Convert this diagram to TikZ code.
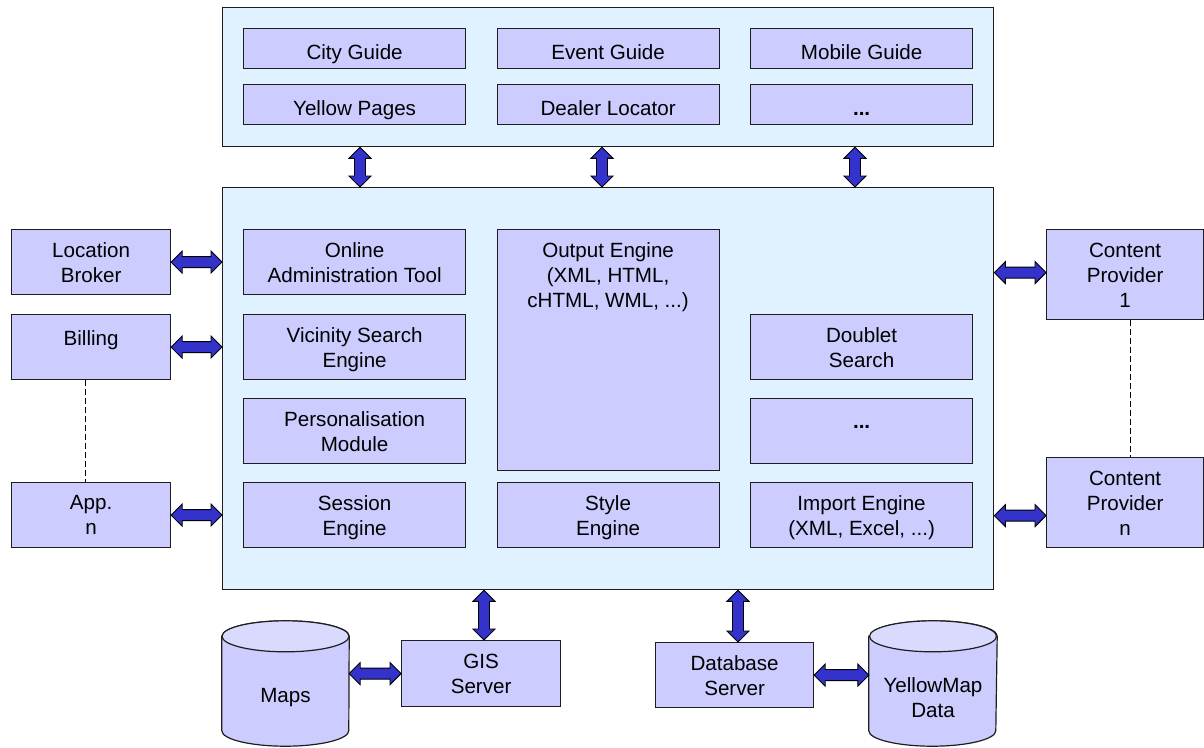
\documentclass[tikz,border=0pt]{standalone}
\usepackage{fontspec}
\setmainfont{Liberation Sans}
\usetikzlibrary{calc}

\definecolor{panelfill}{RGB}{224,242,255}
\definecolor{boxfill}{RGB}{204,204,255}
\definecolor{cyltop}{RGB}{218,218,255}
\definecolor{arrowblue}{RGB}{51,51,204}
\definecolor{edge}{RGB}{30,30,30}

\tikzset{
  panel/.style={draw=edge, line width=1.3pt, fill=panelfill, inner sep=0pt},
  box/.style={draw=edge, line width=1.2pt, fill=boxfill, inner sep=0pt},
  txt/.style={anchor=north, inner xsep=0pt, inner ysep=13.5pt, align=center,
              font=\fontsize{20.6}{25}\selectfont, execute at begin node=\strut},
  ctxt/.style={inner sep=0pt, align=center, font=\fontsize{20.6}{25}\selectfont},
  barrow/.style={fill=arrowblue, draw=black, line width=0.9pt, line join=miter},
  cylbody/.style={draw=edge, line width=1.2pt, fill=boxfill},
  cylcap/.style={draw=edge, line width=1.2pt, fill=cyltop},
  link/.style={draw=black, line width=1.6pt, dash pattern=on 6pt off 3pt}
}

% rectangle with its caption set from the top edge
\newcommand\tbox[6]{%
  \node[box, minimum width=#4pt, minimum height=#5pt, anchor=north west] (#1) at (#2,#3) {};
  \node[txt] (#1-t) at (#1.north) {#6};}

% two-headed block arrow between two points
\newcommand\blockarrow[2]{%
  \path[barrow] (#1)
    -- ($(#1)!11pt!(#2)!11pt!90:(#2)$)
    -- ($(#1)!11pt!(#2)!5.5pt!90:(#2)$)
    -- ($(#2)!11pt!(#1)!5.5pt!-90:(#1)$)
    -- ($(#2)!11pt!(#1)!11pt!-90:(#1)$)
    -- (#2)
    -- ($(#2)!11pt!(#1)!11pt!90:(#1)$)
    -- ($(#2)!11pt!(#1)!5.5pt!90:(#1)$)
    -- ($(#1)!11pt!(#2)!5.5pt!-90:(#2)$)
    -- ($(#1)!11pt!(#2)!11pt!-90:(#2)$)
    -- cycle;}

% database drum with a lighter top
\newcommand\drum[2]{%
  \path[cylbody] ([yshift=-15.5pt]#1.north west) -- ([yshift=15.5pt]#1.south west)
    arc[start angle=180, end angle=360, x radius=63.5pt, y radius=15.5pt]
    -- ([yshift=-15.5pt]#1.north east)
    arc[start angle=0, end angle=180, x radius=63.5pt, y radius=15.5pt] -- cycle;
  \path[cylcap] ([yshift=-15.5pt]#1.north) ellipse [x radius=63.5pt, y radius=15.5pt];
  \node[ctxt] (#1-t) at ([yshift=-14.5pt]#1.center) {#2};}

\begin{document}
\begin{tikzpicture}[x=1pt, y=-1pt]
\useasboundingbox (0,0) rectangle (1204,747);

% applications panel
\node[panel, minimum width=771pt, minimum height=139pt, anchor=north west] (top) at (222,7) {};
\tbox{cg}{243}{28}{222}{40}{City Guide}
\tbox{eg}{496.5}{28}{222}{40}{Event Guide}
\tbox{mg}{750}{28}{222}{40}{Mobile Guide}
\tbox{yp}{243}{84}{222}{40}{Yellow Pages}
\tbox{dl}{496.5}{84}{222}{40}{Dealer Locator}
\tbox{ta}{750}{84}{222}{40}{\textbf{...}}

% core platform panel
\node[panel, minimum width=771pt, minimum height=402pt, anchor=north west] (main) at (222,187) {};
\tbox{oat}{243}{229}{222}{65}{Online\\Administration Tool}
\tbox{vse}{243}{313.5}{222}{65}{Vicinity Search\\Engine}
\tbox{pm}{243}{397.5}{222}{65}{Personalisation\\Module}
\tbox{se}{243}{482}{222}{65}{Session\\Engine}
\tbox{oe}{496.5}{229}{222}{241}{Output Engine\\(XML, HTML,\\cHTML, WML, ...)}
\tbox{ste}{496.5}{482}{222}{65}{Style\\Engine}
\tbox{ds}{750}{313.5}{222}{65}{Doublet\\Search}
\tbox{md}{750}{397.5}{222}{65}{\textbf{...}}
\tbox{ie}{750}{482}{222}{65}{Import Engine\\(XML, Excel, ...)}

% clients on the left
\tbox{lb}{11}{229}{159}{65}{Location\\Broker}
\tbox{bl}{11}{314}{159}{65}{Billing}
\tbox{app}{11}{482}{159}{65}{App.\\n}

% content providers on the right
\tbox{cp1}{1046}{229}{157}{90}{Content\\Provider\\1}
\tbox{cpn}{1046}{457}{157}{90}{Content\\Provider\\n}

% servers and data stores
\tbox{gis}{401}{640}{159}{66}{GIS\\Server}
\tbox{db}{655}{642}{158}{65}{Database\\Server}
\node[inner sep=0pt, minimum width=127pt, minimum height=125pt] (maps) at (285.5,683.5) {};
\drum{maps}{Maps}
\node[inner sep=0pt, minimum width=128pt, minimum height=125pt] (ym) at (933,683.5) {};
\drum{ym}{YellowMap\\Data}

% arrow end points
\coordinate (a1) at ($(top.south west)+(138,0)$);
\coordinate (a2) at ($(top.south west)+(380,0)$);
\coordinate (a3) at ($(top.south west)+(633,0)$);
\coordinate (b1) at (a1 |- main.north);
\coordinate (b2) at (a2 |- main.north);
\coordinate (b3) at (a3 |- main.north);
\coordinate (c1) at ($(cp1.west)+(0,-2)$);
\coordinate (c2) at ($(cpn.west)+(0,13)$);
\coordinate (g1) at ($(main.south west)+(262,0)$);
\coordinate (g2) at (g1 |- gis.north);
\coordinate (d1) at ($(main.south west)+(516,0)$);
\coordinate (d2) at (d1 |- db.north);

% vertical links
\blockarrow{a1}{b1}
\blockarrow{a2}{b2}
\blockarrow{a3}{b3}
\blockarrow{g1}{g2}
\blockarrow{d1}{d2}

% horizontal links
\blockarrow{lb.east}{lb.east -| main.west}
\blockarrow{bl.east}{bl.east -| main.west}
\blockarrow{app.east}{app.east -| main.west}
\blockarrow{c1 -| main.east}{c1}
\blockarrow{c2 -| main.east}{c2}
\blockarrow{gis.west -| maps.east}{gis.west}
\blockarrow{db.east}{db.east -| ym.west}

% "more of the same" links
\draw[link] ([xshift=-5.5pt]bl.south) -- ([xshift=-5.5pt]app.north);
\draw[link] ([xshift=5.5pt]cp1.south) -- ([xshift=5.5pt]cpn.north);
\end{tikzpicture}
\end{document}
